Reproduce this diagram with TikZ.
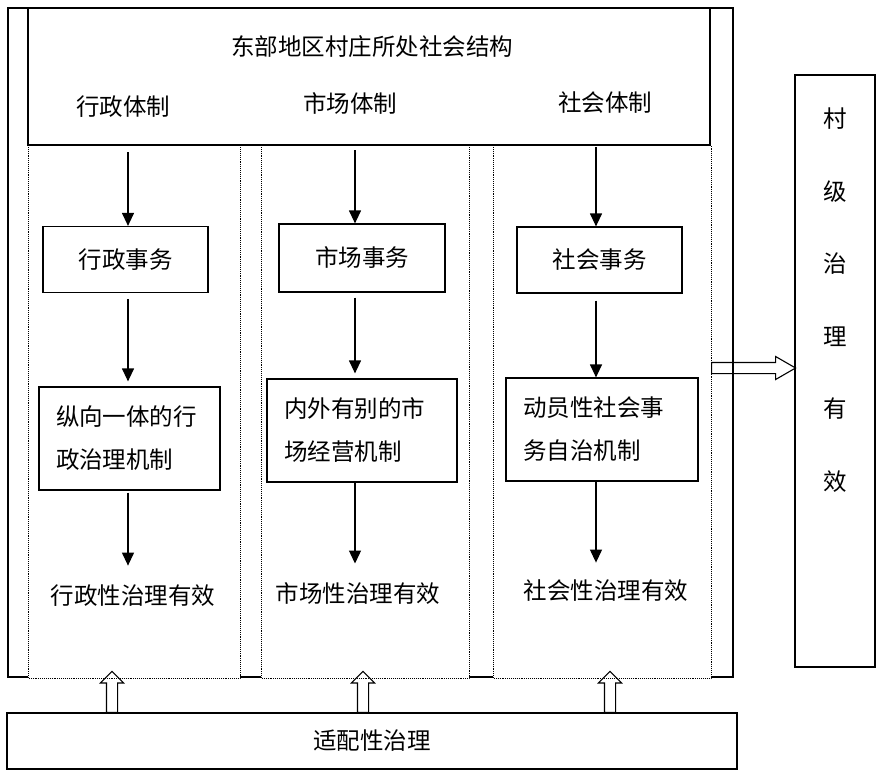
\documentclass[tikz,border=0pt]{standalone}
\usepackage{fontspec}
\setmainfont{Noto Sans CJK SC}
\usetikzlibrary{arrows.meta,shapes.arrows}

\tikzset{
  kuang/.style={draw, line width=1.2pt, inner sep=0pt},
  jizhi/.style={draw, line width=1.2pt, align=left, inner xsep=17pt, inner ysep=0pt,
    minimum height=103pt, font=\fontsize{23.5}{43}\selectfont},
  lie/.style={densely dotted, line width=0.9pt, fill=white},
  jt/.style={-{Triangle[width=12pt,length=13pt]}, line width=1.2pt},
  kongjt/.style={draw, line width=1.1pt, single arrow, single arrow head extend=6pt,
    inner xsep=0pt, inner ysep=5pt, anchor=tail},
}

\begin{document}
\begin{tikzpicture}[x=1pt, y=-1pt, font=\fontsize{23.5}{28}\selectfont]
\useasboundingbox (0,0) rectangle (876,771);
\draw[line width=1.2pt] (8,8) rectangle (733,677);
\draw[lie] (28,145) rectangle (240,678);
\draw[lie] (261,145) rectangle (469,678);
\draw[lie] (493,145) rectangle (711,678);

\node[kuang, minimum width=682pt, minimum height=137pt] (jg) at (369,76.5) {};
\node (dongbu) at (372,47) {东部地区村庄所处社会结构};
\node (xztz) at (123,107) {行政体制};
\node (sctz) at (350,103) {市场体制};
\node (shtz) at (605,103) {社会体制};

\node[kuang, minimum width=165pt, minimum height=66pt] (xzsw) at (125.5,259.5) {行政事务};
\node[kuang, minimum width=166pt, minimum height=68pt] (scsw) at (362,258) {市场事务};
\node[kuang, minimum width=165pt, minimum height=66pt] (shsw) at (599.5,260) {社会事务};

\node[jizhi, text width=147pt] (xzjz) at (129.5,438.5) {纵向一体的行\\政治理机制};
\node[jizhi, text width=156pt] (scjz) at (362,430.5) {内外有别的市\\场经营机制};
\node[jizhi, text width=158pt] (shjz) at (602,429.5) {动员性社会事\\务自治机制};

\node (xzyx) at (133,596) {行政性治理有效};
\node (scyx) at (358,594) {市场性治理有效};
\node (shyx) at (606,591) {社会性治理有效};

\coordinate (xz0) at (128,152);
\coordinate (sc0) at (355,150);
\coordinate (sh0) at (596,147);
\draw[jt] (xz0) -- (xz0 |- xzsw.north);
\draw[jt] (sc0) -- (sc0 |- scsw.north);
\draw[jt] (sh0) -- (sh0 |- shsw.north);
\draw[jt, shorten <=6pt, shorten >=5pt] (xzsw.south -| xz0) -- (xz0 |- xzjz.north);
\draw[jt, shorten <=5pt, shorten >=5pt] (scsw.south -| sc0) -- (sc0 |- scjz.north);
\draw[jt, shorten <=7pt] (shsw.south -| sh0) -- (sh0 |- shjz.north);
\draw[jt, shorten <=2pt, shorten >=16pt] (xzjz.south -| xz0) -- (xz0 |- xzyx.north);
\draw[jt, shorten >=16pt] (scjz.south -| sc0) -- (sc0 |- scyx.north);
\draw[jt, shorten >=14pt] (shjz.south -| sh0) -- (sh0 |- shyx.north);

\node[kuang, minimum width=80pt, minimum height=592pt] (cjzl) at (835,371) {};
\node[align=center, font=\fontsize{23.5}{72.5}\selectfont] (cjzlwz) at (835,300) {村\\级\\治\\理\\有\\效};

\node[kuang, minimum width=730pt, minimum height=56pt] (spzl) at (372,741) {适配性治理};

\node[kongjt, minimum height=84pt, single arrow tip angle=60] (youjt) at (711,368) {};
\node[kongjt, rotate=90, minimum height=41pt, single arrow tip angle=90] (shang1) at (112,713) {};
\node[kongjt, rotate=90, minimum height=41pt, single arrow tip angle=90] (shang2) at (363,713) {};
\node[kongjt, rotate=90, minimum height=41pt, single arrow tip angle=90] (shang3) at (610,713) {};
\end{tikzpicture}
\end{document}
